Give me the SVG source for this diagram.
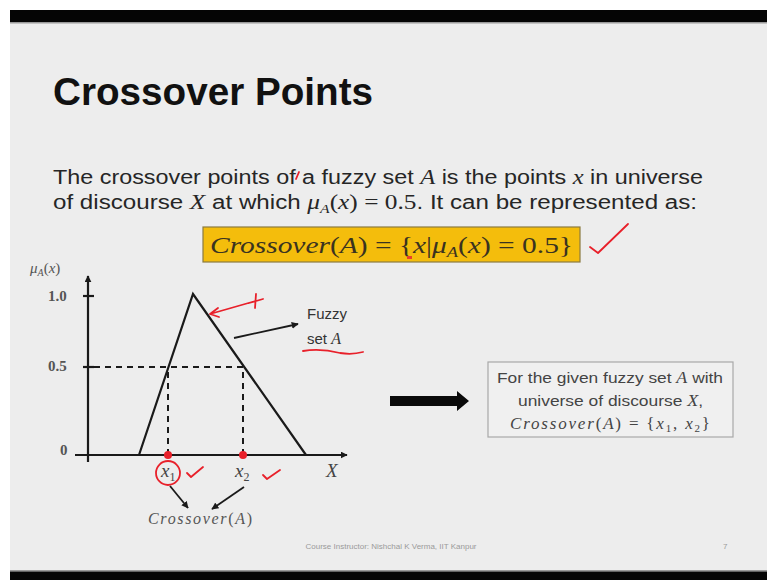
<svg xmlns="http://www.w3.org/2000/svg" width="767" height="580" viewBox="0 0 767 580">
<style>
.sans{font-family:"Liberation Sans",Arial,sans-serif}
.ser{font-family:"Liberation Serif","Times New Roman",serif}
.it{font-style:italic}
.body{font-size:20px;fill:#262626}
.lbl{font-size:15px;fill:#555}
.axis{stroke:#1a1a1a;stroke-width:2.2;fill:none}
.dash{stroke:#1a1a1a;stroke-width:2;stroke-dasharray:6 5;fill:none}
.red{stroke:#e8202a;stroke-width:1.8;fill:none;stroke-linecap:round;stroke-linejoin:round}
.conn{stroke:#1a1a1a;stroke-width:1.8;fill:none}
</style>
<defs>
<marker id="ah" viewBox="0 0 10 10" refX="9" refY="5" markerWidth="7" markerHeight="7" orient="auto" markerUnits="userSpaceOnUse">
<path d="M0,0 L10,5 L0,10 z" fill="#1a1a1a"/>
</marker>
</defs>
<rect x="0" y="0" width="767" height="580" fill="#ffffff"/>
<rect x="10" y="10" width="757" height="570" fill="#ededed"/>
<rect x="10" y="10" width="757" height="12" fill="#050505"/>
<rect x="10" y="22" width="757" height="1.5" fill="#9a9a9a"/>
<rect x="10" y="570" width="757" height="1.5" fill="#9a9a9a"/>
<rect x="10" y="571.5" width="757" height="8.5" fill="#050505"/>

<g id="title">
<text x="53" y="105" class="sans" font-size="38.5" font-weight="bold" fill="#111" textLength="320" lengthAdjust="spacingAndGlyphs">Crossover Points</text>
</g>

<g id="description">
<text x="53" y="184" class="sans body" textLength="650" lengthAdjust="spacingAndGlyphs">The crossover points of a fuzzy set <tspan class="ser it" font-size="21">A</tspan> is the points <tspan class="ser it" font-size="21">x</tspan> in universe</text>
<path d="M296,179 L299,172" class="red" stroke-width="1.4"/>
<text x="53" y="209" class="sans body" textLength="644" lengthAdjust="spacingAndGlyphs">of discourse <tspan class="ser it" font-size="21">X</tspan> at which <tspan class="ser it" font-size="21">μ</tspan><tspan class="ser it" font-size="13" dy="4">A</tspan><tspan class="ser" font-size="21" dy="-4">(</tspan><tspan class="ser it" font-size="21">x</tspan><tspan class="ser" font-size="21">) = 0.5</tspan>. It can be represented as:</text>
</g>

<g id="formula">
<rect x="203" y="227" width="377" height="35" fill="#f4bd0c" stroke="#8a7a40" stroke-width="1.2"/>
<text x="210" y="253" class="ser" font-size="24" fill="#3a3320" textLength="363" lengthAdjust="spacingAndGlyphs"><tspan class="it">Crossover</tspan>(<tspan class="it">A</tspan>) = {<tspan class="it">x</tspan>|<tspan class="it">μ</tspan><tspan class="it" font-size="15" dy="4">A</tspan><tspan dy="-4">(</tspan><tspan class="it">x</tspan>) = 0.5}</text>
<rect x="407" y="256" width="5" height="3" fill="#e8402a"/>
<path d="M590,247 L598,253 L628,224" class="red"/>
</g>

<g id="chart">
<text x="30" y="273" class="ser it lbl">μ<tspan font-size="10" dy="3">A</tspan><tspan dy="-3" font-style="normal">(</tspan>x<tspan font-style="normal">)</tspan></text>
<text x="48" y="301" class="ser lbl" font-weight="bold" fill="#666">1.0</text>
<text x="48" y="371" class="ser lbl" font-weight="bold" fill="#666">0.5</text>
<text x="60" y="455" class="ser lbl" font-weight="bold" fill="#666">0</text>
<line x1="88" y1="462" x2="88" y2="276" class="axis" marker-end="url(#ah)"/>
<line x1="75" y1="455" x2="347" y2="455" class="axis" marker-end="url(#ah)"/>
<line x1="83" y1="296" x2="94" y2="296" class="axis"/>
<line x1="83" y1="367" x2="94" y2="367" class="axis"/>
<polyline points="139,455 193,294 306,455" class="axis"/>
<line x1="94" y1="367" x2="243" y2="367" class="dash"/>
<line x1="168" y1="372" x2="168" y2="452" class="dash"/>
<line x1="243" y1="372" x2="243" y2="452" class="dash"/>
<circle cx="168" cy="455" r="4" fill="#e8202a"/>
<circle cx="243" cy="455" r="4" fill="#e8202a"/>
<text x="161" y="477" class="ser it" font-size="19" fill="#444">x<tspan font-size="12" dy="4" font-style="normal">1</tspan></text>
<text x="235" y="477" class="ser it" font-size="19" fill="#444">x<tspan font-size="12" dy="4" font-style="normal">2</tspan></text>
<text x="326" y="477" class="ser it" font-size="19" fill="#444">X</text>
<circle cx="168" cy="473" r="12" class="red"/>
<path d="M187,473 L191,477 L203,467" class="red"/>
<path d="M263,475 L267,479 L280,470" class="red"/>
<text x="307" y="319" class="sans" font-size="15" fill="#333">Fuzzy</text>
<text x="307" y="344" class="sans" font-size="15" fill="#333">set <tspan class="ser it" font-size="16">A</tspan></text>
<path d="M303,351 Q320,348 340,353 Q352,355 363,352" class="red"/>
<path d="M256,294 L255,308 M249,303 L263,299 M252,302 L210,314 M210,314 L218,308 M210,314 L219,317" class="red"/>
<text x="148" y="524" class="ser it" font-size="16" fill="#555" textLength="104" lengthAdjust="spacing">Crossover<tspan font-style="normal">(</tspan>A<tspan font-style="normal">)</tspan></text>
</g>

<g id="connectors">
<line x1="234" y1="338" x2="298" y2="324" class="conn" marker-end="url(#ah)"/>
<line x1="170" y1="486" x2="188" y2="508" class="conn" marker-end="url(#ah)"/>
<line x1="244" y1="487" x2="212" y2="509" class="conn" marker-end="url(#ah)"/>
<path d="M390,396 L457,396 L457,391 L469,401 L457,411 L457,406 L390,406 z" fill="#0a0a0a"/>
</g>

<g id="result">
<rect x="488" y="362" width="245" height="75" fill="#f0f0f0" stroke="#a8a8a8" stroke-width="1.2"/>
<text x="497" y="383" class="sans" font-size="15.5" fill="#444" textLength="226" lengthAdjust="spacingAndGlyphs">For the given fuzzy set <tspan class="ser it" font-size="16">A</tspan> with</text>
<text x="518" y="406" class="sans" font-size="15.5" fill="#444" textLength="185" lengthAdjust="spacingAndGlyphs">universe of discourse <tspan class="ser it" font-size="16">X</tspan>,</text>
<text x="510" y="429" class="ser" font-size="17" fill="#444" textLength="200" lengthAdjust="spacing"><tspan class="it">Crossover</tspan>(<tspan class="it">A</tspan>) = {<tspan class="it">x</tspan><tspan font-size="11" dy="3">1</tspan><tspan dy="-3">, </tspan><tspan class="it">x</tspan><tspan font-size="11" dy="3">2</tspan><tspan dy="-3">}</tspan></text>
</g>

<g id="footer">
<text x="391" y="549" text-anchor="middle" class="sans" font-size="8" fill="#9a9a9a">Course Instructor: Nishchal K Verma, IIT Kanpur</text>
<text x="723" y="549" class="sans" font-size="8" fill="#9a9a9a">7</text>
</g>
</svg>
